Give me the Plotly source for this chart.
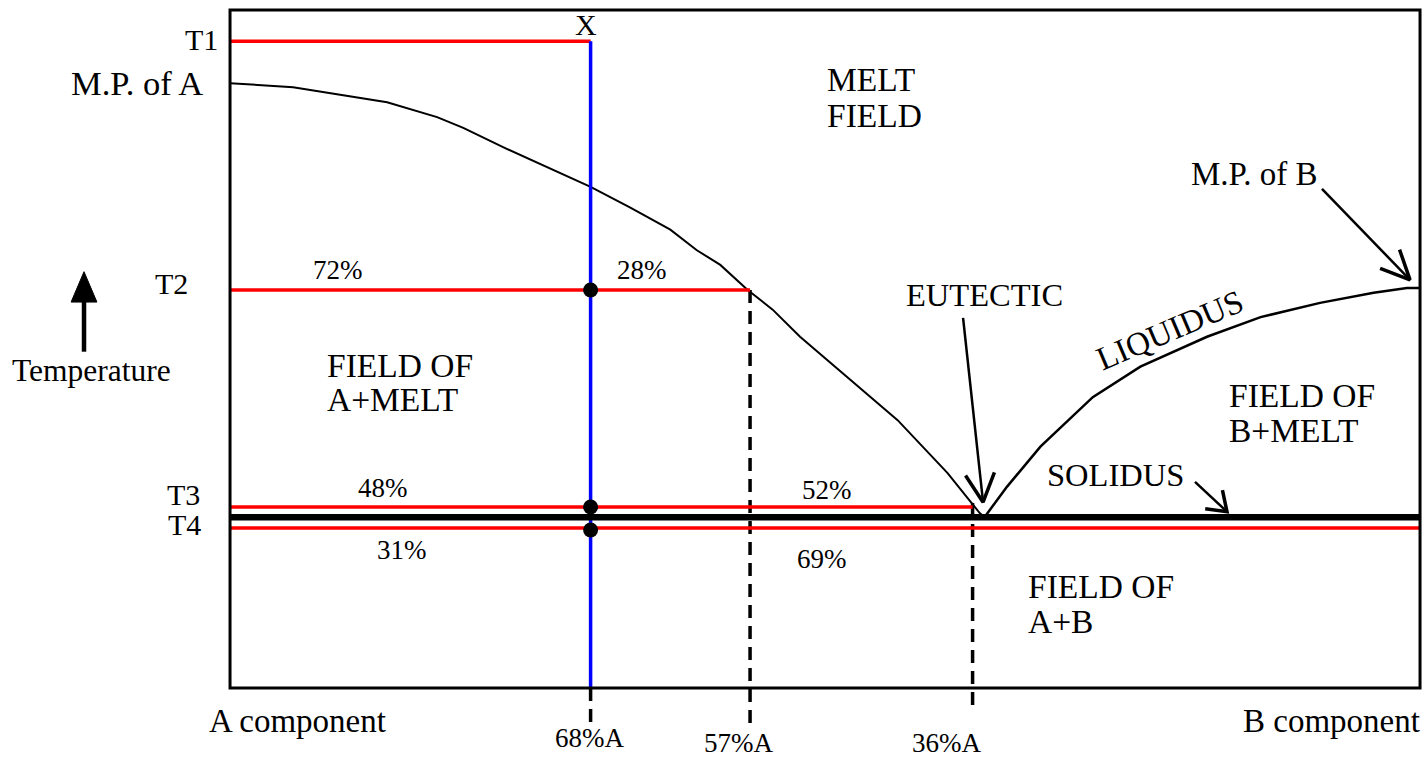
import math
import plotly.graph_objects as go

# ---------------- data (schematic units: composition 0..100 across the box, temperature 0..100) -------------
liquidus_A_comp = [0, 5.3, 7.8, 13.2, 17.4, 19.6, 22.9, 26.6, 30.3, 33.6, 37.0, 39.2, 41.2, 43.5,
                   45.6, 47.9, 50.7, 53.5, 56.1, 58.2, 60.3, 61.9, 63.0, 63.4]
liquidus_A_temp = [89.2, 88.6, 87.9, 86.4, 84.2, 82.6, 79.8, 76.8, 73.9, 70.9, 67.6, 64.6, 62.4, 58.7,
                   55.8, 51.8, 47.6, 43.5, 39.5, 35.6, 31.7, 28.2, 25.8, 25.2]
liquidus_B_comp = [63.4, 65.3, 68.1, 72.5, 76.5, 82.1, 86.6, 91.6, 96.1, 98.9, 100]
liquidus_B_temp = [25.2, 29.7, 35.6, 42.9, 47.4, 51.8, 54.7, 56.8, 58.3, 59.0, 59.0]

level_names = ["T1", "T2", "T3", "T4"]
level_temps = [95.4, 58.7, 26.7, 23.6]
tie_line_ends = [30.3, 43.7, 62.4, 100.0]
solidus_temp = 25.2

bulk_comp = 30.3          # composition X (68% A)
liquid_T2_comp = 43.7     # 57% A
eutectic_comp = 62.4      # 36% A
composition_labels = ["68%A", "57%A", "36%A"]

# ---------------- helpers ----------------
SX, SY = 11.9, 6.78  # pixels per unit
FONT = "Liberation Serif"


def head(x0, y0, x1, y1, length, half_deg):
    ang = math.atan2((y1 - y0) * SY, (x1 - x0) * SX)
    ha = math.radians(half_deg)
    pts = []
    for s in (1, -1):
        a = ang + math.pi + s * ha
        pts.append((x1 + length * math.cos(a) / SX, y1 + length * math.sin(a) / SY))
    return [pts[0][0], x1, pts[1][0]], [pts[0][1], y1, pts[1][1]]


fig = go.Figure()

def line(xs, ys, color, width, dash=None, fill=None):
    fig.add_trace(go.Scatter(x=xs, y=ys, mode="lines", fill=fill, fillcolor=color,
                             line=dict(color=color, width=width, dash=dash),
                             hoverinfo="skip", showlegend=False))

# liquidus
line(liquidus_A_comp, liquidus_A_temp, "black", 2)
line(liquidus_B_comp, liquidus_B_temp, "black", 2.5)

# dashed composition lines
line([liquid_T2_comp, liquid_T2_comp], [level_temps[1], -5.3], "black", 3.5, dash="13px,8px")
line([eutectic_comp, eutectic_comp], [level_temps[2] + 0.6, -2.65], "black", 3.5, dash="13px,8px")
line([bulk_comp, bulk_comp], [0, -5.0], "black", 3.5, dash="13px,8px")

# red tie lines
for t, e in zip(level_temps, tie_line_ends):
    line([0, e], [t, t], "red", 3.5)

# blue bulk composition line
line([bulk_comp, bulk_comp], [level_temps[0], 0], "blue", 3.5)

# solidus
line([0, 100], [solidus_temp, solidus_temp], "black", 6.5)

# points on bulk line
fig.add_trace(go.Scatter(x=[bulk_comp] * 3, y=[level_temps[1], level_temps[2], level_temps[3] - 0.3],
                         mode="markers", marker=dict(color="black", size=15),
                         hoverinfo="skip", showlegend=False))

# arrows
arrows = [
    (61.6, 54.6, 63.28, 27.4, 32, 27, 2.5),   # eutectic
    (81.09, 30.4, 83.78, 26.0, 22, 35, 2.5),  # solidus
    (91.76, 73.6, 99.16, 60.2, 32, 25, 2.5),  # M.P. of B
]
for x0, y0, x1, y1, L, h, w in arrows:
    line([x0, x1], [y0, y1], "black", w)
    hx, hy = head(x0, y0, x1, y1, L, h)
    line(hx, hy, "black", w + 1)

# temperature arrow (filled head)
tx, t0, t1 = -12.27, 49.6, 60.0
line([tx, tx], [t0, t1 - 2], "black", 4.5)
hx, hy = head(tx, t0, tx, 61.4, 33, 23)
line(hx + [hx[0]], hy + [hy[0]], "black", 1, fill="toself")

# ---------------- text ----------------
ann = []
BIG = 33.5
PCT = 27

def txt(x, y, s, size=BIG, xanchor="center", angle=0):
    ann.append(dict(x=x, y=y, text=s, showarrow=False, xanchor=xanchor, yanchor="middle",
                    textangle=angle, font=dict(family=FONT, size=size, color="black")))

level_label_x = [-0.84, -3.36, -2.35, -2.27]
level_label_y = [95.6, 59.7, 28.6, 24.1]
for n, lx, ly in zip(level_names, level_label_x, level_label_y):
    txt(lx, ly, n, 30, "right")
txt(-2.1, 89.2, "M.P. of A", 34.5, "right")
txt(-11.6, 46.8, "Temperature", 31.5)
txt(29.9, 97.9, "X", 30)
txt(50.0, 89.7, "MELT", BIG, "left")
txt(50.0, 84.5, "FIELD", BIG, "left")
txt(9.08, 61.6, "72%", PCT)
txt(34.6, 61.6, "28%", PCT)
txt(8.0, 47.6, "FIELD OF", BIG, "left")
txt(8.0, 42.5, "A+MELT", BIG, "left")
txt(12.86, 29.5, "48%", PCT)
txt(14.45, 20.4, "31%", PCT)
txt(50.17, 29.2, "52%", PCT)
txt(49.75, 19.0, "69%", PCT)
txt(66.9, 14.9, "FIELD OF", BIG, "left")
txt(66.9, 9.8, "A+B", BIG, "left")
txt(63.36, 58.0, "EUTECTIC", 32.5)
txt(74.37, 31.4, "SOLIDUS", 32.5)
txt(83.8, 43.1, "FIELD OF", BIG, "left")
txt(83.8, 38.0, "B+MELT", BIG, "left")
txt(79.0, 52.8, "LIQUIDUS", 33, angle=-23)
txt(86.13, 75.8, "M.P. of B", 33)
txt(5.63, -4.8, "A component", 33)
txt(92.52, -4.8, "B component", 33)
comp_label_x = [30.17, 42.69, 60.17]
comp_label_y = [-7.4, -8.1, -8.1]
for lab, lx, ly in zip(composition_labels, comp_label_x, comp_label_y):
    txt(lx, ly, lab, PCT)

fig.update_layout(
    width=1423, height=759,
    margin=dict(l=0, r=0, t=0, b=0),
    paper_bgcolor="white", plot_bgcolor="white",
    xaxis=dict(range=[-19.33, 100.25], visible=False, fixedrange=True),
    yaxis=dict(range=[-10.47, 101.47], visible=False, fixedrange=True),
    annotations=ann,
    shapes=[dict(type="rect", xref="x", yref="y", x0=0, y0=0, x1=100, y1=100,
                 line=dict(color="black", width=3), layer="above")],
    showlegend=False,
)

fig.write_html(
    "out.html",
    config={"displayModeBar": False},
    post_script="document.body.style.margin='0';document.body.style.overflow='hidden';",
)
